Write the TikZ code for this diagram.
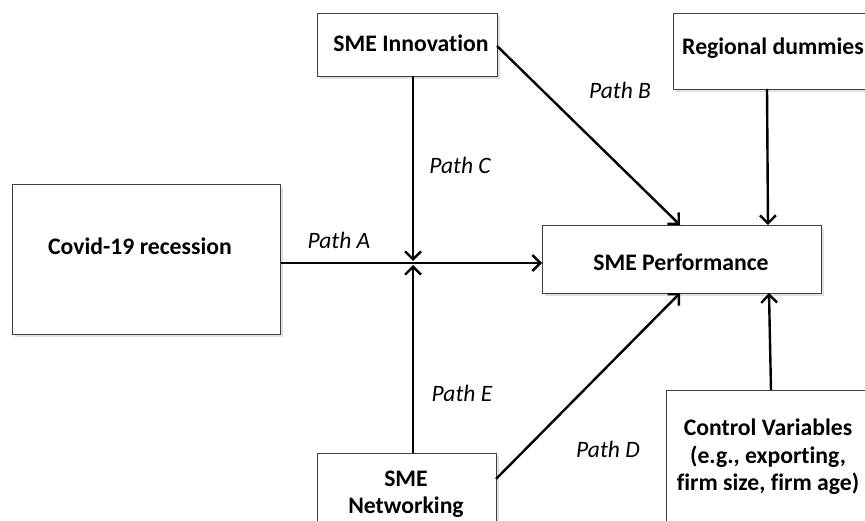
\documentclass[tikz,border=0pt]{standalone}
\usepackage{fontspec}
\setmainfont{Carlito}[Ligatures=NoCommon]
\usetikzlibrary{arrows.meta,calc,shadows}
\begin{document}
\begin{tikzpicture}[x=1pt,y=-1pt,
  box/.style={draw=black!75, line width=1.3pt, fill=white, inner sep=0pt, anchor=north west,
    drop shadow={opacity=0.12, shadow xshift=2pt, shadow yshift=-2pt, fill=black}},
  lbl/.style={font=\fontsize{23.7}{27.5}\selectfont\bfseries, align=center, inner sep=0pt},
  pth/.style={font=\fontsize{23.5}{28}\selectfont\itshape, inner sep=0pt},
  arr/.style={line width=2.4pt, -{Straight Barb[length=8pt,width=16pt]}}
]
\useasboundingbox (0,0) rectangle (865,521);
\clip (0,0) rectangle (865,521);
\fill[white] (0,0) rectangle (865,521);

% boxes
\node[box, minimum width=180pt, minimum height=63pt] (innov) at (317,13) {};
\node[box, minimum width=210pt, minimum height=76pt] (reg) at (673,13) {};
\node[box, minimum width=268pt, minimum height=150pt] (cov) at (12,184) {};
\node[box, minimum width=279pt, minimum height=68pt] (perf) at (542,225) {};
\node[box, minimum width=179pt, minimum height=90pt] (netw) at (317,453) {};
\node[box, minimum width=210pt, minimum height=160pt] (ctrl) at (666,390) {};

% box texts
\node[lbl] (innovt) at (411,43) {SME Innovation};
\node[lbl] (regt) at (773,48) {Regional dummies};
\node[lbl] (covt) at (140,246) {Covid-19 recession};
\node[lbl] (perft) at (681,262) {SME Performance};
\node[lbl] (netwt) at (406,494) {SME\\Networking};
\node[lbl] (ctrlt) at (768,457) {Control Variables\\(e.g., exporting,\\firm size, firm age)};

% junction and anchor coordinates
\coordinate (j) at (413,263);
\coordinate (innovb) at (413,76);
\coordinate (netwt0) at (413,453);
\coordinate (innove) at (497,46);
\coordinate (netwe) at (496,479);
\coordinate (perfB) at (680,225);
\coordinate (perfD) at (680,293);
\coordinate (regb) at (767,89);
\coordinate (perfR) at (768,225);
\coordinate (ctrlt0) at (771,390);
\coordinate (perfC) at (769,293);

% connectors
\draw[arr] (cov.east |- j) -- (perf.west |- j);
\draw[arr] (innovb) -- ($(j)+(0,-2)$);
\draw[arr] (netwt0) -- ($(j)+(0,2)$);
\draw[arr] (innove) -- (perfB);
\draw[arr] (regb) -- (perfR);
\draw[arr] (netwe) -- (perfD);
\draw[arr] (ctrlt0) -- (perfC);

% path labels
\node[pth] (pa) at (339,240) {Path A};
\node[pth] (pb) at (620,90) {Path B};
\node[pth] (pc) at (460,165) {Path C};
\node[pth] (pe) at (462,393) {Path E};
\node[pth] (pd) at (608,449) {Path D};
\end{tikzpicture}
\end{document}
